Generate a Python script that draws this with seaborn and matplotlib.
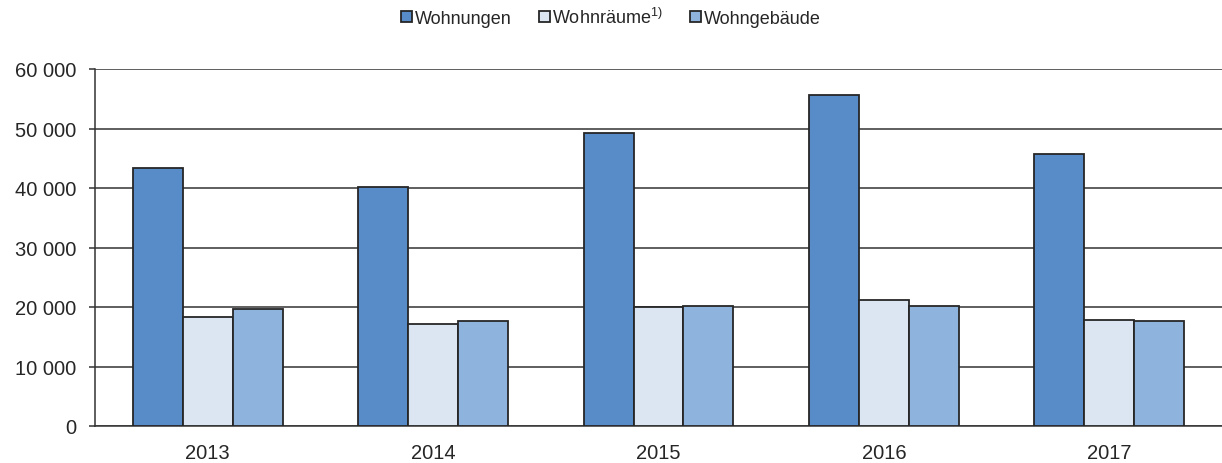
import matplotlib.pyplot as plt
import matplotlib.ticker as mticker
import seaborn as sns
import pandas as pd

# Daten
jahre = ["2013", "2014", "2015", "2016", "2017"]
wohnungen = [43400, 40100, 49200, 55600, 45700]
wohnraeume = [18400, 17100, 20000, 21100, 17800]
wohngebaeude = [19600, 17700, 20200, 20100, 17600]
serien = ["Wohnungen", "Wohnräume$^{1)}$", "Wohngebäude"]
farben = ["#588CC8", "#DCE6F2", "#8EB4DE"]

df = pd.DataFrame({
    "jahr": jahre * 3,
    "wert": wohnungen + wohnraeume + wohngebaeude,
    "art": [serien[0]] * 5 + [serien[1]] * 5 + [serien[2]] * 5,
})

sns.set_style("white")
plt.rcParams["font.family"] = ["Liberation Sans", "DejaVu Sans"]
plt.rcParams["mathtext.fontset"] = "custom"
plt.rcParams["mathtext.rm"] = "Liberation Sans"

fig = plt.figure(figsize=(12.22, 4.64), dpi=100)
ax = fig.add_axes([95 / 1222, 1 - 427 / 464, 1 - 95 / 1222, 357 / 464])

sns.barplot(
    data=df,
    x="jahr",
    y="wert",
    hue="art",
    palette=farben,
    saturation=1,
    width=0.665,
    edgecolor="#262626",
    linewidth=1.3,
    ax=ax,
    zorder=3,
)

ax.set_ylim(0, 60000)
ax.set_xlim(-0.5, 4.5)
ax.set_yticks(range(0, 60001, 10000))
ax.yaxis.set_major_formatter(mticker.FuncFormatter(lambda v, p: f"{int(v):,}".replace(",", " ")))
ax.grid(axis="y", color="#333333", linewidth=1.1, zorder=0)
ax.set_axisbelow(True)

for s in ["top", "right"]:
    ax.spines[s].set_visible(False)
ax.spines["left"].set_color("#333333")
ax.spines["bottom"].set_color("#333333")
ax.spines["left"].set_linewidth(1.1)
ax.spines["bottom"].set_linewidth(1.1)

ax.tick_params(axis="y", length=4.5, width=1.1, color="#333333", labelsize=14.5, pad=9, left=True)
ax.tick_params(axis="x", length=0, labelsize=14.5, pad=12)
ax.set_xlabel("")
ax.set_ylabel("")

handles, labels = ax.get_legend_handles_labels()
ax.legend_.remove()
fig.legend(
    handles, labels,
    loc="center", bbox_to_anchor=(0.5, 1 - 18 / 464),
    ncol=3, frameon=False, fontsize=13,
    handlelength=0.6, handleheight=0.6, handletextpad=0.15,
    columnspacing=1.5,
)

plt.savefig("out.png", dpi=100)
